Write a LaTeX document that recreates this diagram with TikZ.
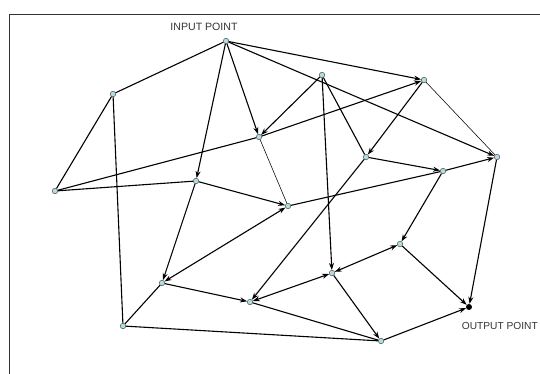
\documentclass[tikz,border=0pt]{standalone}
\usepackage{fontspec}
\setmainfont{Liberation Sans}
\usetikzlibrary{arrows.meta}
\definecolor{ptfill}{HTML}{B2DEE2}
\definecolor{txt}{HTML}{333333}
\begin{document}
\begin{tikzpicture}[x=1pt,y=-1pt,
  pt/.style={circle,draw=black!70,fill=ptfill,line width=0.5pt,inner sep=0pt,minimum size=5.5pt},
  outpt/.style={circle,fill=black,inner sep=0pt,minimum size=6pt},
  link/.style={line width=1.1pt},
  thinlink/.style={line width=0.55pt},
  arr/.style={link,-{Stealth[length=7pt,width=5pt]}},
  darr/.style={link,{Stealth[length=7pt,width=5pt]}-{Stealth[length=7pt,width=5pt]}},
  lab/.style={font=\fontsize{10.6}{12}\selectfont,text=txt,inner sep=0pt}
]
\useasboundingbox (0,0) rectangle (540,374);
\draw[black!80,line width=0.9pt] (9,400) -- (9,14) -- (560,14);

\node[lab] (inlab) at (204,27) {INPUT POINT};
\node[lab,anchor=east,font=\fontsize{10.2}{12}\selectfont] (outlab) at (538,326) {OUTPUT POINT};

\node[pt] (IN) at (226,41) {};
\node[pt] (A) at (113,94) {};
\node[pt] (B) at (55,191) {};
\node[pt] (C) at (259,137) {};
\node[pt] (D) at (196,181) {};
\node[pt] (E) at (322,75) {};
\node[pt] (F) at (424,80) {};
\node[pt] (G) at (366,157) {};
\node[pt] (H) at (443,171) {};
\node[pt] (I) at (497,157) {};
\node[pt] (J) at (288,206) {};
\node[pt] (K) at (400,244) {};
\node[pt] (L) at (332,273) {};
\node[pt] (M) at (162,283) {};
\node[pt] (N) at (250,302) {};
\node[pt] (O) at (123,326) {};
\node[pt] (P) at (381,341) {};
\node[outpt] (OUT) at (469,307) {};

\draw[link] (IN) -- (A);
\draw[link] (A) -- (B);
\draw[link] (A) -- (O);
\draw[arr] (IN) -- (F);
\draw[arr] (IN) -- (I);
\draw[arr] (IN) -- (C);
\draw[arr] (IN) -- (D);
\draw[link] (B) -- (C);
\draw[link] (B) -- (D);
\draw[arr] (C) -- (F);
\draw[arr] (E) -- (C);
\draw[link] (E) -- (G);
\draw[arr] (E) -- (L);
\draw[arr] (F) -- (G);
\draw[thinlink] (F) -- (I);
\draw[arr] (G) -- (H);
\draw[arr] (G) -- (N);
\draw[arr] (H) -- (I);
\draw[arr] (H) -- (K);
\draw[link] (J) -- (H);
\draw[thinlink] (C) -- (J);
\draw[arr] (D) -- (J);
\draw[arr] (D) -- (M);
\draw[darr] (M) -- (J);
\draw[arr] (M) -- (N);
\draw[darr] (N) -- (L);
\draw[darr] (L) -- (K);
\draw[arr] (L) -- (P);
\draw[link] (N) -- (P);
\draw[link] (O) -- (P);
\draw[link] (O) -- (M);
\draw[arr] (P) -- (OUT);
\draw[arr] (K) -- (OUT);
\draw[arr] (I) -- (OUT);
\end{tikzpicture}
\end{document}
